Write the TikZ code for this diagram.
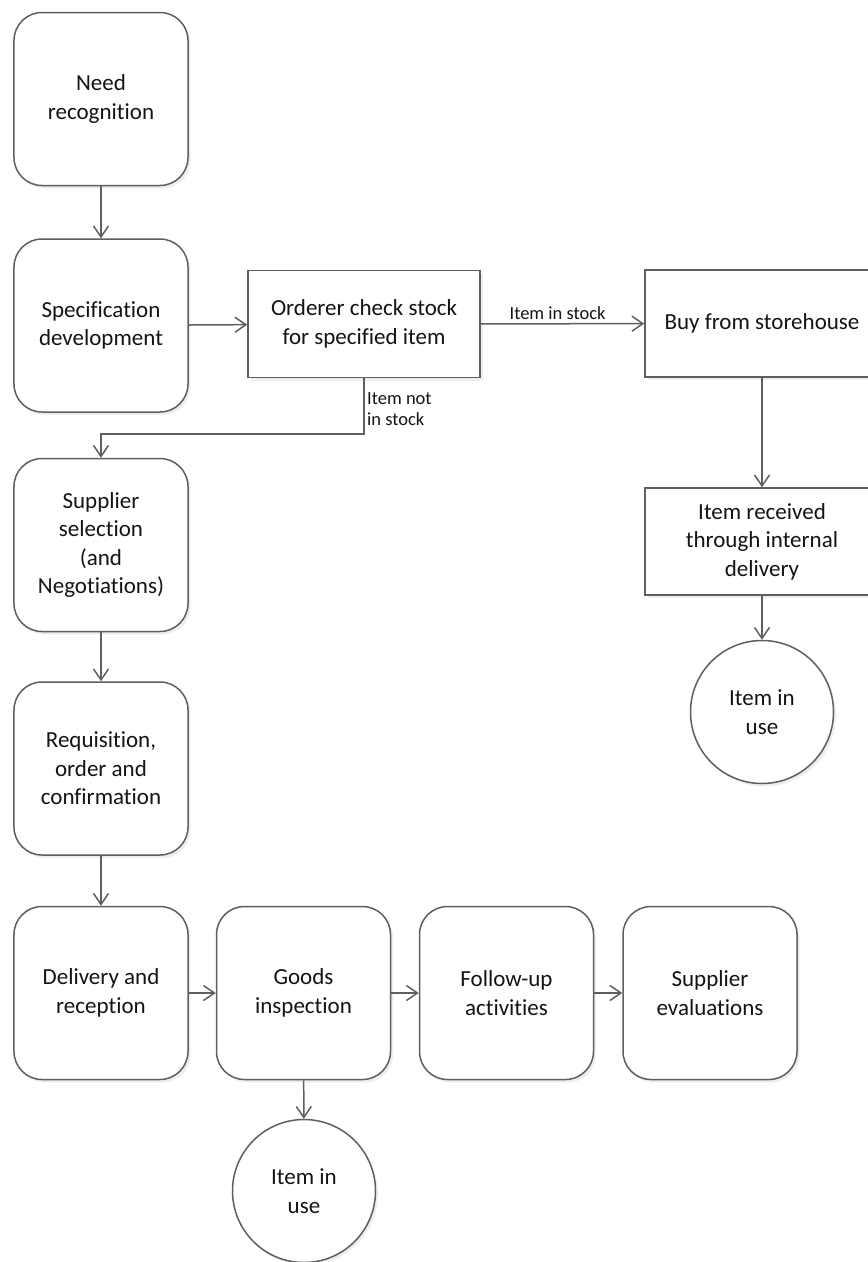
\documentclass[tikz,border=0pt]{standalone}
\usepackage{fontspec}
\setmainfont{Carlito}[Ligatures=CommonOff]
\usetikzlibrary{arrows.meta,shadows}

\definecolor{edgegray}{RGB}{95,95,95}
\definecolor{ink}{RGB}{20,20,20}

\newcommand\stagefont{\fontsize{23bp}{28.5bp}\selectfont}
\newcommand\notefont{\fontsize{18.5bp}{21.8bp}\selectfont}

\tikzset{
  softshadow/.style={drop shadow={opacity=0.13, shadow xshift=2.5bp, shadow yshift=-3bp}},
  stage/.style={draw=edgegray, line width=1.5bp, fill=white, rounded corners=28bp,
    minimum width=174bp, minimum height=173bp, inner sep=0pt,
    align=center, font=\stagefont, text=ink, softshadow},
  taskbox/.style={draw=edgegray, line width=1.5bp, fill=white, rectangle,
    minimum height=107bp, inner sep=0pt,
    align=center, font=\stagefont, text=ink, softshadow},
  endstate/.style={draw=edgegray, line width=1.5bp, fill=white, circle,
    minimum size=143bp, inner sep=0pt,
    align=center, font=\stagefont, text=ink, softshadow},
  flowlabel/.style={font=\notefont, text=ink, inner sep=3bp},
  link/.style={draw=edgegray, line width=1.5bp,
    -{Straight Barb[length=11bp, width=15bp, line width=1.5bp]}},
}

\begin{document}
\begin{tikzpicture}[x=1bp, y=-1bp]
  \useasboundingbox (0,0) rectangle (868,1262);
  \fill[white] (0,0) rectangle (868,1262);
  \clip (0,0) rectangle (868,1262);

  % main purchasing column
  \node[stage] (need) at (101,99) {Need\\recognition};
  \node[stage] (spec) at (101,325.5) {Specification\\development};
  \node[stage] (supp) at (101,545) {Supplier\\selection\\(and\\Negotiations)};
  \node[stage] (req)  at (101,768.5) {Requisition,\\order and\\confirmation};
  \node[stage] (deliv) at (101,993) {Delivery and\\reception};

  % bottom row
  \node[stage] (goods)  at (303.5,993) {Goods\\inspection};
  \node[stage] (follow) at (506.5,993) {Follow-up\\activities};
  \node[stage] (eval)   at (710,993) {Supplier\\evaluations};
  \node[endstate] (use1) at (304,1191) {Item in\\use};

  % stock check branch
  \node[taskbox, minimum width=232bp] (order) at (364,324) {Orderer check stock\\for specified item};
  \node[taskbox, minimum width=234bp] (buy)  at (762,323.5) {Buy from storehouse};
  \node[taskbox, minimum width=234bp] (recv) at (762,541.5) {Item received\\through internal\\delivery};
  \node[endstate] (use2) at (762,712) {Item in\\use};

  \coordinate (bend) at (101,434);

  % connectors
  \draw[link] (need) -- (spec);
  \draw[link] (spec) -- (order);
  \draw[link] (order) -- node[flowlabel, above, pos=0.47] {Item in stock} (buy);
  \draw[link] (order.south) |- (bend) -- (supp.north);
  \node[flowlabel, anchor=north west, align=left, inner sep=0pt] (nostock) at (367,392)
    {Item not\\in stock};
  \draw[link] (supp) -- (req);
  \draw[link] (req) -- (deliv);
  \draw[link] (deliv) -- (goods);
  \draw[link] (goods) -- (follow);
  \draw[link] (follow) -- (eval);
  \draw[link] (goods) -- (use1);
  \draw[link] (buy) -- (recv);
  \draw[link] (recv) -- (use2);
\end{tikzpicture}
\end{document}
